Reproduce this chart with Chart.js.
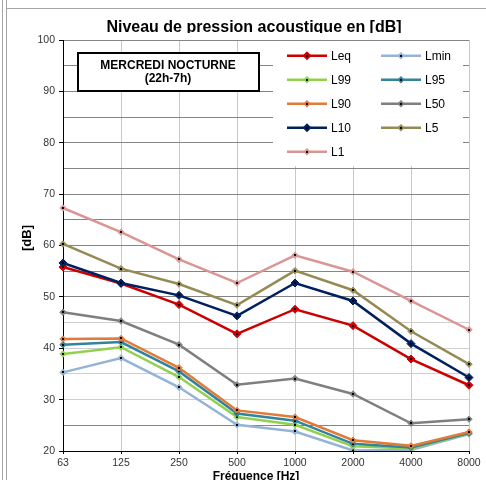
<!DOCTYPE html>
<html>
<head>
<meta charset="utf-8">
<script src="https://cdn.jsdelivr.net/npm/chart.js@4/dist/chart.umd.min.js"></script>
<style>
html,body{margin:0;padding:0;background:#fff;}
#wrap{position:relative;width:486px;height:480px;}
</style>
</head>
<body>
<div id="wrap"><canvas id="c" width="486" height="480"></canvas></div>
<script>
const chartTitle = "Niveau de pression acoustique en [dB]";
const xTitle = "Fréquence [Hz]";
const yTitle = "[dB]";
const noteLines = ["MERCREDI NOCTURNE", "(22h-7h)"];
const frequencies = ["63", "125", "250", "500", "1000", "2000", "4000", "8000"];
const seriesNames = ["Leq", "Lmin", "L99", "L95", "L90", "L50", "L10", "L5", "L1"];
const Leq  = [55.8, 52.6, 48.5, 42.8, 47.6, 44.4, 37.9, 32.8];
const Lmin = [35.3, 38.1, 32.4, 25.1, 23.8, 20.1, 20.2, 23.3];
const L99  = [38.9, 40.2, 34.4, 26.6, 25.1, 20.9, 20.5, 23.4];
const L95  = [40.7, 41.2, 35.5, 27.3, 25.9, 21.4, 20.7, 23.5];
const L90  = [41.8, 41.9, 36.2, 27.9, 26.6, 22.1, 21.0, 23.7];
const L50  = [47.0, 45.3, 40.7, 32.9, 34.1, 31.1, 25.4, 26.2];
const L10  = [56.6, 52.7, 50.3, 46.3, 52.7, 49.2, 40.9, 34.3];
const L5   = [60.3, 55.5, 52.5, 48.4, 55.1, 51.3, 43.3, 36.9];
const L1   = [67.3, 62.6, 57.3, 52.7, 58.1, 54.9, 49.2, 43.6];
const seriesValues = [Leq, Lmin, L99, L95, L90, L50, L10, L5, L1];
const seriesColors = ["#CC0000", "#95B3D7", "#92D050", "#31849B", "#E07B39", "#7F7F7F", "#002060", "#948A54", "#DA9694"];
const yMin = 20, yMax = 100, yStep = 5, yLabelStep = 10;

const FONT = "'Liberation Sans', Arial, sans-serif";

const datasets = seriesNames.map((name, i) => ({
  label: name,
  data: seriesValues[i],
  borderColor: seriesColors[i],
  backgroundColor: seriesColors[i],
  borderWidth: 2.5,
  pointStyle: 'rectRot',
  pointRadius: (name === 'Leq' || name === 'L10') ? 4 : 3.2,
  pointBackgroundColor: seriesColors[i],
  pointBorderColor: seriesColors[i],
  pointBorderWidth: 1,
  tension: 0,
  fill: false,
  order: 20 - i
}));

const decor = {
  id: 'decor',
  beforeDraw(chart) {
    const ctx = chart.ctx;
    ctx.save();
    ctx.fillStyle = '#fff';
    ctx.fillRect(0, 0, chart.width, chart.height);
    ctx.strokeStyle = '#a6a6a6';
    ctx.lineWidth = 1;
    ctx.beginPath();
    ctx.moveTo(2.5, 0); ctx.lineTo(2.5, chart.height);
    ctx.moveTo(6.5, 0); ctx.lineTo(6.5, chart.height);
    ctx.moveTo(6.5, 8.5); ctx.lineTo(chart.width, 8.5);
    ctx.stroke();
    ctx.restore();
  },
  afterDatasetDraw(chart, args) {
    const ctx = chart.ctx;
    ctx.save();
    ctx.fillStyle = '#000';
    args.meta.data.forEach(p => {
      ctx.fillRect(Math.round(p.x) - 1, Math.round(p.y) - 1, 2, 2);
    });
    ctx.restore();
  },
  afterDraw(chart) {
    const ctx = chart.ctx;
    const area = chart.chartArea;
    ctx.save();
    // Title (clipped at bottom like reference)
    ctx.save();
    ctx.beginPath();
    ctx.rect(0, 0, chart.width, 33);
    ctx.clip();
    ctx.fillStyle = '#000';
    ctx.font = "bold 16px " + FONT;
    ctx.textAlign = 'center';
    ctx.textBaseline = 'alphabetic';
    ctx.fillText(chartTitle, 254, 31.5);
    ctx.restore();
    // Y title
    ctx.save();
    ctx.translate(27, 238);
    ctx.rotate(-Math.PI / 2);
    ctx.font = "bold 13px " + FONT;
    ctx.fillStyle = '#000';
    ctx.textAlign = 'center';
    ctx.textBaseline = 'middle';
    ctx.fillText(yTitle, 0, 0);
    ctx.restore();
    // X title
    ctx.font = "bold 12px " + FONT;
    ctx.fillStyle = '#000';
    ctx.textAlign = 'center';
    ctx.textBaseline = 'alphabetic';
    ctx.fillText(xTitle, 256, 480);

    // Note box
    ctx.fillStyle = '#fff';
    ctx.fillRect(78, 53, 181, 38);
    ctx.strokeStyle = '#000';
    ctx.lineWidth = 2;
    ctx.strokeRect(78, 53, 181, 38);
    ctx.fillStyle = '#000';
    ctx.font = "bold 12px " + FONT;
    ctx.textBaseline = 'middle';
    ctx.fillText(noteLines[0], 168, 65.5);
    ctx.fillText(noteLines[1], 168, 78.5);

    // Legend
    ctx.fillStyle = '#fff';
    ctx.fillRect(273, area.top + 1, 190, 125);
    const cols = [307, 401];
    chart.data.datasets.forEach((ds, i) => {
      const cx = cols[i % 2];
      const cy = 55.7 + 24 * Math.floor(i / 2);
      ctx.strokeStyle = ds.borderColor;
      ctx.lineWidth = 2.5;
      ctx.beginPath();
      ctx.moveTo(cx - 20, cy); ctx.lineTo(cx + 20, cy);
      ctx.stroke();
      const r = ds.pointRadius + 0.5;
      ctx.fillStyle = ds.borderColor;
      ctx.beginPath();
      ctx.moveTo(cx, cy - r); ctx.lineTo(cx + r, cy); ctx.lineTo(cx, cy + r); ctx.lineTo(cx - r, cy);
      ctx.closePath();
      ctx.fill();
      ctx.fillStyle = '#000';
      ctx.fillRect(Math.round(cx) - 1, Math.round(cy) - 1, 2, 2);
      ctx.font = "12px " + FONT;
      ctx.textAlign = 'left';
      ctx.textBaseline = 'middle';
      ctx.fillText(ds.label, cx + 24, cy + 0.5);
    });
    ctx.restore();
  }
};

new Chart(document.getElementById('c'), {
  type: 'line',
  data: { labels: frequencies, datasets },
  options: {
    responsive: false,
    animation: false,
    devicePixelRatio: 1,
    layout: { padding: { top: 40, right: 17, left: 0, bottom: 0 } },
    plugins: { legend: { display: false }, title: { display: false }, tooltip: { enabled: false } },
    scales: {
      x: {
        type: 'category',
        offset: false,
        afterFit(s) { s.height = 29; },
        grid: {
          offset: false,
          color: (c) => c.index === 0 ? 'rgba(0,0,0,0)' : '#c8c8c8',
          lineWidth: 1,
          tickLength: 3,
          tickColor: '#000'
        },
        border: { color: '#000', width: 1 },
        ticks: { color: '#333', font: { family: FONT, size: 10.5 }, padding: 3, maxRotation: 0, autoSkip: false }
      },
      y: {
        min: yMin, max: yMax,
        afterFit(s) { s.width = 63; },
        grid: {
          color: (c) => {
            const v = c.tick ? c.tick.value : 0;
            if (v === yMin) return 'rgba(0,0,0,0)';
            return (v >= 30 && v <= 45) ? '#cfcfcf' : '#858585';
          },
          lineWidth: 1,
          tickLength: 4,
          tickColor: (c) => (c.tick && c.tick.value % yLabelStep === 0) ? '#000' : 'rgba(0,0,0,0)'
        },
        border: { color: '#000', width: 1 },
        ticks: {
          stepSize: yStep,
          autoSkip: false,
          color: '#333',
          font: { family: FONT, size: 10.5 },
          padding: 4,
          callback: (v) => (v % yLabelStep === 0) ? String(v) : ''
        }
      }
    }
  },
  plugins: [decor]
});
</script>
</body>
</html>
